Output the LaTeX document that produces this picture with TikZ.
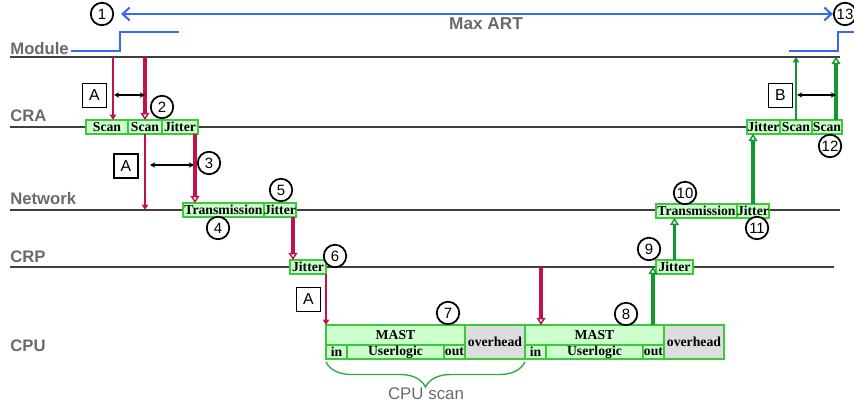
\documentclass[tikz,border=0pt]{standalone}
\usepackage{fontspec}
\setmainfont{Liberation Serif}
\setsansfont{Liberation Sans}
\usepackage{xcolor}
\usetikzlibrary{arrows.meta,positioning,decorations.pathreplacing}

\definecolor{cellfill}{HTML}{CCFFCC}
\definecolor{cellline}{HTML}{3CC83C}
\definecolor{ovfill}{HTML}{DDDDDD}
\definecolor{reqred}{HTML}{C2104C}
\definecolor{ackgreen}{HTML}{12982F}
\definecolor{bracegreen}{HTML}{33AA44}
\definecolor{sigblue}{HTML}{3868F8}
\definecolor{lanegray}{HTML}{6A6A6A}
\definecolor{linegray}{HTML}{404040}

\begin{document}
\begin{tikzpicture}[x=0.02cm, y=-0.02cm,
  lane/.style={font=\sffamily\bfseries\fontsize{9.5}{11}\selectfont, text=lanegray, anchor=base west, inner sep=0pt},
  baseline/.style={draw=linegray, line width=0.6pt},
  cell/.style={draw=cellline, fill=cellfill, line width=0.7pt, inner sep=0pt, outer sep=0pt,
    minimum height=2.8mm, font=\bfseries\fontsize{7.8}{9}\selectfont},
  num/.style={circle, draw, fill=white, line width=1pt, minimum size=4.5mm, inner sep=0pt,
    font=\sffamily\fontsize{8.5}{10}\selectfont},
  tag/.style={draw, line width=1pt, minimum size=4.8mm, inner sep=0pt, font=\sffamily\fontsize{9}{10}\selectfont},
  reqthin/.style={draw=reqred, line width=0.8pt, -{Triangle[length=3pt,width=3.5pt]}},
  reqthick/.style={draw=reqred, line width=2pt, -{Triangle[open,length=4pt,width=5pt,line width=0.8pt]}},
  ackthin/.style={draw=ackgreen, line width=0.8pt, -{Triangle[length=3pt,width=3.5pt]}},
  ackthick/.style={draw=ackgreen, line width=2pt, -{Triangle[open,length=4pt,width=5pt,line width=0.8pt]}},
  gap/.style={draw=black, line width=0.6pt, {Stealth[length=3pt,width=3pt]}-{Stealth[length=3pt,width=3pt]}},
  sig/.style={draw=sigblue, line width=1.2pt},
]
  \useasboundingbox (0,0) rectangle (854,404);

  % lanes
  \draw[baseline] (10,57) coordinate (mod) -- (840,57);
  \draw[baseline] (10,127) coordinate (cra) -- (843,127);
  \draw[baseline] (10,210) coordinate (net) -- (840,210);
  \draw[baseline] (10,267) coordinate (crp) -- (834,267);

  \node[lane] (lblMod) at (10,55) {Module};
  \node[lane] (lblCra) at (10,122) {CRA};
  \node[lane] (lblNet) at (10,205) {Network};
  \node[lane] (lblCrp) at (10,263) {CRP};
  \node[lane] (lblCpu) at (10,352) {CPU};

  % module signal
  \draw[sig] (71,51) -- (120,51) -- (120,32) -- (179,32);
  \draw[sig] (789,51) -- (838,51) -- (838,32) -- (854,32);

  % request side
  \node[cell, minimum width=8.4mm, anchor=west] (craScan1) at (86,127) {Scan};
  \node[cell, minimum width=6.8mm, right=0pt of craScan1] (craScan2) {Scan};
  \node[cell, minimum width=7.2mm, right=0pt of craScan2] (craJit) {Jitter};
  \node[cell, minimum width=16.2mm, anchor=west] (netTrans) at (183,210) {Transmission};
  \node[cell, minimum width=6.4mm, right=0pt of netTrans] (netJit) {Jitter};
  \node[cell, minimum width=7.2mm, anchor=west] (crpJit) at (290,267) {Jitter};

  % cpu scans
  \foreach \i/\x in {1/326,2/525}{
    \node[cell, minimum width=27.8mm, minimum height=4mm, anchor=north west] (mast\i) at (\x,325) {MAST};
    \node[cell, minimum width=4.2mm, anchor=north west] (in\i) at (mast\i.south west) {in};
    \node[cell, minimum width=19.4mm, right=0pt of in\i] (user\i) {Userlogic};
    \node[cell, minimum width=4.2mm, right=0pt of user\i] (out\i) {out};
    \node[cell, fill=ovfill, minimum width=12mm, minimum height=6.8mm, anchor=north west] (over\i) at (mast\i.north east) {overhead};
  }

  % response side
  \node[cell, minimum width=7.4mm, anchor=west] (crpJit2) at (656,267) {Jitter};
  \node[cell, minimum width=16.2mm, anchor=west] (netTrans2) at (656,211) {Transmission};
  \node[cell, minimum width=6.4mm, right=0pt of netTrans2] (netJit2) {Jitter};
  \node[cell, minimum width=6.6mm, anchor=west] (craJit2) at (747,127) {Jitter};
  \node[cell, minimum width=6.4mm, right=0pt of craJit2] (craScan3) {Scan};
  \node[cell, minimum width=6mm, right=0pt of craScan3] (craScan4) {Scan};

  % red arrows
  \coordinate (r1) at (113,57);
  \draw[reqthin] (r1) -- (r1 |- craScan1.north);
  \draw[reqthick] (craScan2 |- mod) -- (craScan2.north);
  \draw[reqthin] (craScan2.south) -- (craScan2 |- net);
  \coordinate (r2) at ([xshift=-0.6mm]craJit.south east);
  \draw[reqthick] (r2) -- (r2 |- netTrans.north);
  \coordinate (r3) at ([xshift=-0.6mm]netJit.south east);
  \draw[reqthick] (r3) -- (r3 |- crpJit.north);
  \draw[reqthin] (crpJit.south east) -- (crpJit.south east |- mast1.north);
  \coordinate (r4) at (541,267);
  \draw[reqthick] (r4) -- (r4 |- mast2.north);

  % green arrows
  \coordinate (g1) at ([xshift=-2.2mm]mast2.north east);
  \draw[ackthick] (g1) -- (g1 |- crp);
  \draw[ackthick] (crpJit2.north) -- (crpJit2 |- netTrans2.south);
  \draw[ackthick] (netJit2.north) -- (netJit2 |- craJit2.south);
  \draw[ackthin] (craScan3.north) -- (craScan3 |- mod);
  \coordinate (g2) at ([xshift=-1.2mm]craScan4.north east);
  \draw[ackthick] (g2) -- (g2 |- mod);

  % delays
  \node[tag] (tagA1) at (94.5,95.5) {A};
  \node[tag] (tagA2) at (126,166) {A};
  \node[tag] (tagA3) at (308.5,299.5) {A};
  \node[tag] (tagB) at (780.5,95.5) {B};
  \coordinate (dA1) at (114,95);
  \coordinate (dA2) at (145,95);
  \draw[gap] (dA1) -- (dA2);
  \coordinate (dB1) at (150,165);
  \coordinate (dB2) at (194,165);
  \draw[gap] (dB1) -- (dB2);
  \coordinate (dC1) at (797,95);
  \coordinate (dC2) at (836,95);
  \draw[gap] (dC1) -- (dC2);

  % steps
  \node[num] (n1) at (102,14) {1};
  \node[num] (n2) at (162,107) {2};
  \node[num] (n3) at (209,163) {3};
  \node[num] (n4) at (218,228) {4};
  \node[num] (n5) at (281,190) {5};
  \node[num] (n6) at (335,256) {6};
  \node[num] (n7) at (448,313) {7};
  \node[num] (n8) at (626,314) {8};
  \node[num] (n9) at (649,249) {9};
  \node[num] (n10) at (685,193) {10};
  \node[num] (n11) at (757,228) {11};
  \node[num] (n12) at (830,146) {12};
  \node[num] (n13) at (845,14) {13};

  \draw[sig, {Straight Barb[length=1.4mm,width=2.6mm]}-{Straight Barb[length=1.4mm,width=2.6mm]}, shorten <=1.4mm] (n1) -- (n13);
  \node[font=\sffamily\bfseries\fontsize{9.8}{11}\selectfont, text=lanegray] (maxart) at (486,24) {Max ART};

  % cpu scan brace
  \draw[bracegreen, line width=0.8pt, decorate, decoration={brace, mirror, amplitude=5mm}]
    ([yshift=-0.6mm]in1.south west) -- ([yshift=-0.6mm]over1.south east);
  \node[font=\sffamily\fontsize{9.6}{11}\selectfont, text=lanegray] (scanlbl) at (426,394) {CPU scan};
\end{tikzpicture}
\end{document}
